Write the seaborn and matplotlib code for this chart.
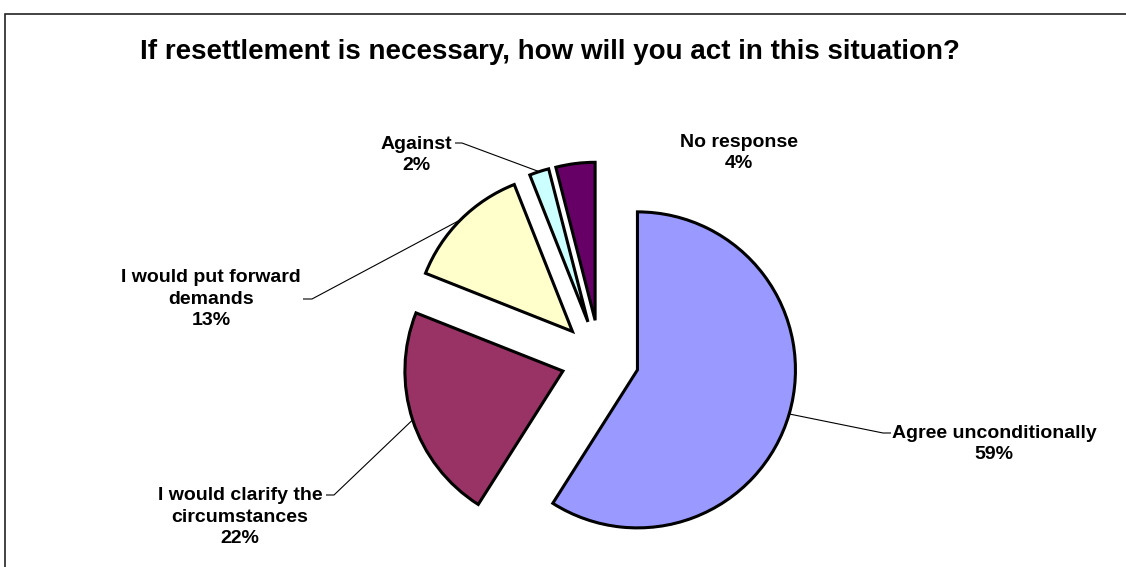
import numpy as np
import matplotlib
matplotlib.use("Agg")
import matplotlib.pyplot as plt
from matplotlib.patches import Rectangle
import seaborn as sns

# Survey answers, clockwise from 12 o'clock
categories = [
    "Agree unconditionally",
    "I would clarify the\ncircumstances",
    "I would put forward\ndemands",
    "Against",
    "No response",
]
shares = [59, 22, 13, 2, 4]
colors = ["#9999FF", "#993366", "#FFFFCC", "#CCFFFF", "#660066"]
title = "If resettlement is necessary, how will you act in this situation?"

sns.set_theme(style="white")
plt.rcParams["font.family"] = ["Liberation Sans", "DejaVu Sans"]

W, H = 1126, 567
fig = plt.figure(figsize=(W / 100, H / 100), dpi=100)
ax = fig.add_axes([0, 0, 1, 1])

# outer chart frame (top and left edges visible)
ax.add_patch(Rectangle((5, -60), 1300, H - 14 + 60, fill=False,
                       edgecolor="#222222", linewidth=1.2))

center = (600, 208)
radius = 158
offset = 39

wedges, _ = ax.pie(
    shares, colors=colors, startangle=90, counterclock=False,
    center=center, radius=radius, explode=[offset] * len(shares),
    wedgeprops=dict(edgecolor="black", linewidth=2.2),
    frame=True,
)
ax.set_xlim(0, W)
ax.set_ylim(0, H)
ax.set_aspect("equal")
ax.axis("off")

# label text centre, elbow of the leader and end of the leader tick
label_pos = [(994, 123), (240, 50), (211, 268), (416, 412), (739, 414)]
leaders = [
    ((883, 134), (891, 134)),
    ((334, 72), (326, 72)),
    ((312, 268), (303, 268)),
    ((462, 424), (455, 424)),
    None,
]

for w, cat, val, pos, lead in zip(wedges, categories, shares, label_pos, leaders):
    ax.text(pos[0], pos[1], f"{cat}\n{val}%", ha="center", va="center",
            fontsize=14, fontweight="bold", linespacing=1.36, color="black")
    if lead is None:
        continue
    mid = np.deg2rad((w.theta1 + w.theta2) / 2)
    cx, cy = w.center
    ex, ey = cx + w.r * np.cos(mid), cy + w.r * np.sin(mid)
    (bx, by), (tx, ty) = lead
    ax.plot([ex, bx, tx], [ey, by, ty], color="black", linewidth=0.8,
            solid_capstyle="butt")

ax.text(W / 2 - 13, H - 52, title, ha="center", va="center",
        fontsize=20, fontweight="bold", color="black")

fig.savefig("out.png", dpi=100, facecolor="white")
